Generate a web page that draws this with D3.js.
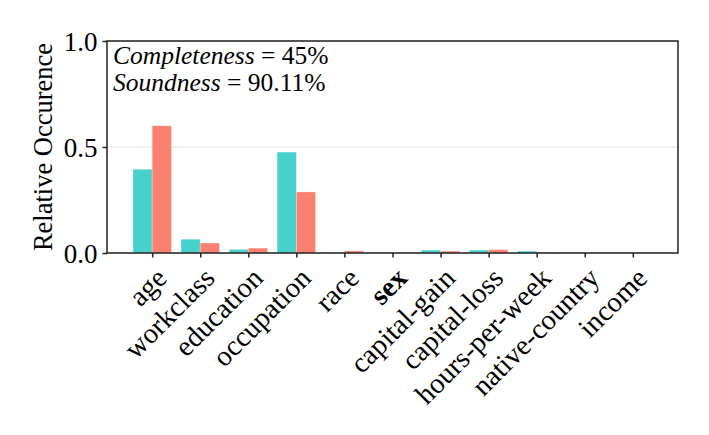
<!DOCTYPE html>
<html>
<head>
<meta charset="utf-8">
<title>Relative Occurence</title>
<script src="https://d3js.org/d3.v7.min.js"></script>
<style>
    body { margin: 0; background: #fff; }
    svg text, svg tspan { font-family: "Liberation Serif", "DejaVu Serif", serif; fill: #000; }
</style>
</head>
<body>
<div id="chart"></div>
<script>
// data
var features = ["age", "workclass", "education", "occupation", "race", "sex",
                "capital-gain", "capital-loss", "hours-per-week", "native-country", "income"];
var tealValues = [0.395, 0.065, 0.017, 0.476, 0.003, 0.0, 0.014, 0.014, 0.009, 0.0, 0.0];
var salmonValues = [0.600, 0.047, 0.023, 0.288, 0.010, 0.0, 0.009, 0.016, 0.004, 0.0, 0.0];
var yTicks = [0.0, 0.5, 1.0];
var boldFeature = "sex";

var serif = '"Liberation Serif", "DejaVu Serif", serif';

var W = 709, H = 435;
var margin = { top: 41, right: 31, bottom: 182, left: 107 };
var width = W - margin.left - margin.right,
    height = H - margin.top - margin.bottom;

var svg = d3.select("#chart").append("svg")
    .attr("width", W)
    .attr("height", H);

var g = svg.append("g")
    .attr("transform", "translate(" + margin.left + "," + margin.top + ")");

// x as a numeric position, bars 0.4 wide each side of the tick
var x = d3.scaleLinear().domain([-0.94, features.length - 1 + 0.94]).range([0, width]);
var y = d3.scaleLinear().domain([0, 1]).range([height, 0]);
var barW = x(0.4) - x(0);

// grid at 0.5
g.append("g")
    .selectAll("line")
    .data(yTicks)
    .enter().append("line")
    .attr("x1", 0).attr("x2", width)
    .attr("y1", function (d) { return y(d); })
    .attr("y2", function (d) { return y(d); })
    .attr("stroke", "#ebebeb")
    .attr("stroke-width", 1.5);

// bars
g.selectAll(".teal")
    .data(tealValues)
    .enter().append("rect")
    .attr("class", "teal")
    .attr("x", function (d, i) { return x(i) - barW; })
    .attr("y", function (d) { return y(d); })
    .attr("width", barW)
    .attr("height", function (d) { return height - y(d); })
    .attr("fill", "#48d1cc")
    .attr("stroke", "rgba(255,255,255,0.35)")
    .attr("stroke-width", 0.8);

g.selectAll(".salmon")
    .data(salmonValues)
    .enter().append("rect")
    .attr("class", "salmon")
    .attr("x", function (d, i) { return x(i); })
    .attr("y", function (d) { return y(d); })
    .attr("width", barW)
    .attr("height", function (d) { return height - y(d); })
    .attr("fill", "#fa8072")
    .attr("stroke", "rgba(255,255,255,0.35)")
    .attr("stroke-width", 0.8);

// frame
g.append("rect")
    .attr("x", 0).attr("y", 0)
    .attr("width", width).attr("height", height)
    .attr("fill", "none")
    .attr("stroke", "#222")
    .attr("stroke-width", 1.5);

// x axis
var xAxis = g.append("g")
    .attr("transform", "translate(0," + height + ")")
    .call(d3.axisBottom(x)
        .tickValues(d3.range(features.length))
        .tickFormat(function (i) { return features[i]; })
        .tickSize(4.5)
        .tickSizeOuter(0));
xAxis.attr("font-family", null).attr("font-size", null);
xAxis.select(".domain").remove();
xAxis.selectAll(".tick line").attr("stroke", "#222").attr("stroke-width", 1.5);
xAxis.selectAll(".tick text")
    .attr("x", 0).attr("y", 0).attr("dy", "0.78em")
    .attr("transform", "translate(0,11) rotate(-45)")
    .style("text-anchor", "end")
    .style("font-family", serif)
    .style("font-size", "28.5px")
    .style("font-weight", function (i) { return features[i] === boldFeature ? "bold" : "normal"; });

// y axis
var yAxis = g.append("g")
    .call(d3.axisLeft(y)
        .tickValues(yTicks)
        .tickFormat(d3.format(".1f"))
        .tickSize(4.5)
        .tickPadding(5)
        .tickSizeOuter(0));
yAxis.attr("font-family", null).attr("font-size", null);
yAxis.select(".domain").remove();
yAxis.selectAll(".tick line").attr("stroke", "#222").attr("stroke-width", 1.5);
yAxis.selectAll(".tick text")
    .attr("dy", "0.34em")
    .style("font-family", serif)
    .style("font-size", "27px");

// y label
svg.append("text")
    .attr("transform", "translate(52," + (margin.top + height / 2) + ") rotate(-90)")
    .style("text-anchor", "middle")
    .style("font-family", serif)
    .style("font-size", "26.5px")
    .text("Relative Occurence");

// annotation
var notes = [["Completeness", "45%"], ["Soundness", "90.11%"]];
notes.forEach(function (n, i) {
    var t = svg.append("text")
        .attr("x", 113)
        .attr("y", 64 + i * 27)
        .style("font-family", serif)
        .style("font-size", "25.5px");
    t.append("tspan").style("font-family", serif).style("font-style", "italic").text(n[0]);
    t.append("tspan").style("font-family", serif).text(" = " + n[1]);
});
</script>
</body>
</html>
